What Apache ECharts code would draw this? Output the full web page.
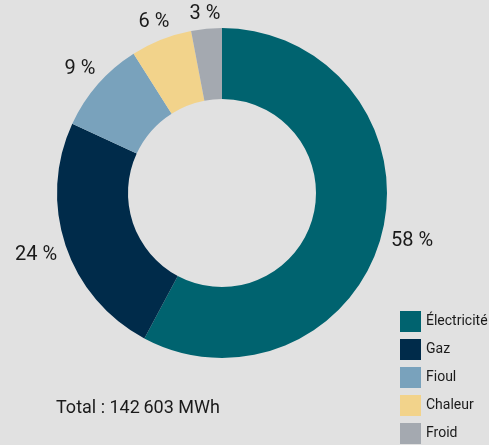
<!DOCTYPE html>
<html>
<head>
<meta charset="utf-8">
<script src="https://cdn.jsdelivr.net/npm/echarts@6/dist/echarts.min.js"></script>
<style>
  html, body { margin: 0; padding: 0; background: #e1e1e1; }
  #chart { width: 489px; height: 445px; }
</style>
</head>
<body>
<div id="chart"></div>
<script>
// énergie par source (% du total)
const categories = ['Électricité', 'Gaz', 'Fioul', 'Chaleur', 'Froid']
const shares = [57.8, 24.1, 9.1, 6.0, 3.0]
const colors = ['#00636f', '#002b4a', '#79a2bc', '#f2d38b', '#a4a9b0']
const totalText = 'Total : 142\u2009603 MWh'

const center = [222, 193]
const outerR = 165
const labelGap = 10

// angle milieu de chaque part (sens horaire depuis le haut)
const sum = shares.reduce((a, b) => a + b, 0)
let acc = 0
const midAngles = shares.map((v) => {
  const mid = ((acc + v / 2) / sum) * Math.PI * 2
  acc += v
  return mid
})

const chart = echarts.init(document.getElementById('chart'))

chart.setOption({
  backgroundColor: '#e1e1e1',
  animation: false,
  textStyle: { fontFamily: 'Roboto' },
  title: {
    text: totalText,
    left: 56,
    top: 399,
    padding: 0,
    textStyle: {
      fontSize: 18,
      fontWeight: 'normal',
      color: '#1a1a1a',
    },
  },
  legend: {
    orient: 'vertical',
    left: 400,
    top: 311,
    padding: 0,
    itemWidth: 21,
    itemHeight: 21,
    itemGap: 7,
    icon: 'rect',
    data: categories,
    textStyle: {
      fontSize: 14,
      color: '#1a1a1a',
    },
  },
  series: [
    {
      type: 'pie',
      center: center,
      radius: [94, outerR],
      startAngle: 90,
      clockwise: true,
      avoidLabelOverlap: false,
      label: {
        show: true,
        position: 'outside',
        rotate: 0,
        fontSize: 20,
        fontStyle: 'normal',
        color: '#1a1a1a',
        formatter: (p) => Math.round(p.value) + ' %',
      },
      labelLine: { show: false },
      // étiquette centrée sur l'angle milieu, juste au-delà du bord
      labelLayout: (params) => {
        const a = midAngles[params.dataIndex]
        const s = Math.sin(a)
        const c = Math.cos(a)
        const w = params.labelRect.width / 2
        const h = 3
        const r = outerR + labelGap + Math.abs(s) * w + Math.abs(c) * h
        return {
          x: Math.round(center[0] + r * s),
          y: Math.round(center[1] - r * c),
          align: 'center',
          verticalAlign: 'middle',
          rotate: 0,
        }
      },
      emphasis: { disabled: true },
      data: categories.map((name, i) => ({
        name,
        value: shares[i],
        itemStyle: { color: colors[i] },
      })),
    },
  ],
})
</script>
</body>
</html>
